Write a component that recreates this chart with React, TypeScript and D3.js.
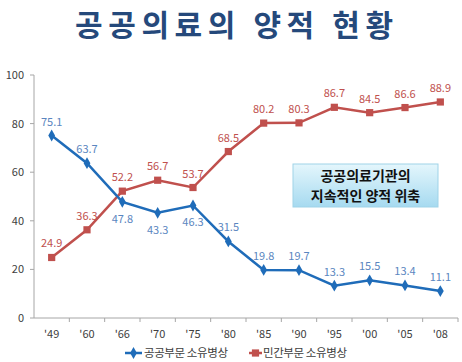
import React from 'react';
import * as d3 from 'd3';

const years = ["'49", "'60", "'66", "'70", "'75", "'80", "'85", "'90", "'95", "'00", "'05", "'08"];
const publicBeds = [75.1, 63.7, 47.8, 43.3, 46.3, 31.5, 19.8, 19.7, 13.3, 15.5, 13.4, 11.1];
const privateBeds = [24.9, 36.3, 52.2, 56.7, 53.7, 68.5, 80.2, 80.3, 86.7, 84.5, 86.6, 88.9];
// which public labels sit below their point
const publicBelow = [false, false, true, true, true, false, false, false, false, false, false, false];
const yTicks = [0, 20, 40, 60, 80, 100];

const W = 462;
const H = 362;
const FONT = "'Noto Sans CJK KR', 'Noto Sans', sans-serif";

const BLUE = '#1f6cb9';
const BLUE_TXT = '#5a86c0';
const RED = '#c0504d';
const AXIS = '#a6a6a6';
const TXT = '#404040';

export default function App() {
  const x = d3.scaleBand<string>().domain(years).range([34, 458]);
  const y = d3.scaleLinear().domain([0, 100]).range([318, 75]);
  const cx = (d: string) => (x(d) as number) + x.bandwidth() / 2;

  const line = d3.line<number>()
    .x((_, i) => cx(years[i]))
    .y((v) => y(v));

  const diamond = d3.symbol().type(d3.symbolDiamond).size(40)();
  const square = d3.symbol().type(d3.symbolSquare).size(52)();

  return (
    <svg width={W} height={H} style={{ position: 'absolute', left: 0, top: 0, background: '#fff' }} fontFamily={FONT}>
      <defs>
        <linearGradient id="boxFill" x1="0" y1="0" x2="0" y2="1">
          <stop offset="0" stopColor="#e4f6fc" />
          <stop offset="1" stopColor="#a6daf0" />
        </linearGradient>
      </defs>

      <text x={234} y={36} textAnchor="middle" fontSize={30} fontWeight="bold" fill="#25497b"
        textLength={318} lengthAdjust="spacing">공공의료의 양적 현황</text>

      {/* y axis */}
      <line x1={34} x2={34} y1={y(100)} y2={y(0)} stroke={AXIS} />
      {yTicks.map((t) => (
        <g key={t}>
          <line x1={30} x2={34} y1={y(t)} y2={y(t)} stroke={AXIS} />
          <text x={24} y={y(t) + 4} textAnchor="end" fontSize={11} fill={TXT}>{t}</text>
        </g>
      ))}

      {/* x axis */}
      <line x1={34} x2={458} y1={y(0)} y2={y(0)} stroke={AXIS} />
      {years.map((yr) => (
        <g key={yr}>
          <line x1={(x(yr) as number) + x.bandwidth()} x2={(x(yr) as number) + x.bandwidth()}
            y1={y(0)} y2={y(0) + 4} stroke={AXIS} />
          <text x={cx(yr)} y={338} textAnchor="middle" fontSize={11} fill={TXT}>{yr}</text>
        </g>
      ))}

      {/* series */}
      <path d={line(privateBeds) || ''} fill="none" stroke={RED} strokeWidth={2.5} />
      <path d={line(publicBeds) || ''} fill="none" stroke={BLUE} strokeWidth={2.5} />
      {privateBeds.map((v, i) => (
        <path key={'r' + i} d={square || ''} transform={`translate(${cx(years[i])},${y(v)})`} fill={RED} />
      ))}
      {publicBeds.map((v, i) => (
        <path key={'b' + i} d={diamond || ''} transform={`translate(${cx(years[i])},${y(v)})`} fill={BLUE} />
      ))}

      {privateBeds.map((v, i) => (
        <text key={'rl' + i} x={cx(years[i])} y={y(v) - 10} textAnchor="middle" fontSize={11} fill={RED}>
          {v.toFixed(1)}
        </text>
      ))}
      {publicBeds.map((v, i) => (
        <text key={'bl' + i} x={cx(years[i])} y={publicBelow[i] ? y(v) + 21 : y(v) - 10}
          textAnchor="middle" fontSize={11} fill={BLUE_TXT}>
          {v.toFixed(1)}
        </text>
      ))}

      {/* callout box */}
      <rect x={293} y={164} width={145} height={43} fill="url(#boxFill)" stroke="#9fd3e8" strokeWidth={1} />
      <text x={365.5} y={181} textAnchor="middle" fontSize={14} fontWeight="bold" fill="#111">공공의료기관의</text>
      <text x={365.5} y={201} textAnchor="middle" fontSize={14} fontWeight="bold" fill="#111">지속적인 양적 위축</text>

      {/* legend */}
      <line x1={125} x2={142} y1={353} y2={353} stroke={BLUE} strokeWidth={2.5} />
      <path d={diamond || ''} transform="translate(133.5,353)" fill={BLUE} />
      <text x={144} y={357} fontSize={11.5} fill={TXT} textLength={84} lengthAdjust="spacing">공공부문 소유병상</text>
      <line x1={249} x2={262} y1={353} y2={353} stroke={RED} strokeWidth={2.5} />
      <path d={square || ''} transform="translate(255.5,353)" fill={RED} />
      <text x={263} y={357} fontSize={11.5} fill={TXT} textLength={84} lengthAdjust="spacing">민간부문 소유병상</text>
    </svg>
  );
}
